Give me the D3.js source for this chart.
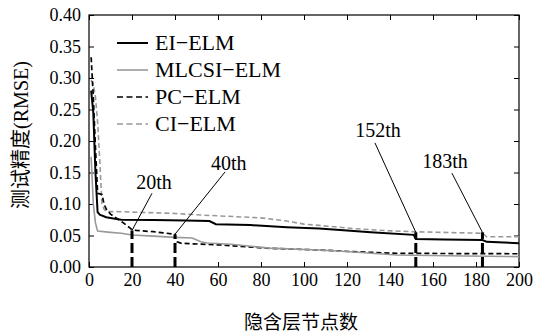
<!DOCTYPE html>
<html><head><meta charset="utf-8">
<script src="https://cdn.jsdelivr.net/npm/d3@7"></script>
<style>body{margin:0;background:#fff}svg{display:block}
.serif{font-family:"Liberation Serif","Times New Roman",Times,serif}
</style>
</head><body>
<svg id="c" width="535" height="335"></svg>
<script>
// ---- data ----
const nodesEI = [1,2,3,4,5,8,12,15,30,45,56,59,75,92,107,120,131,151,152,165,183,185,200];
const rmseEI  = [0.28,0.245,0.15,0.087,0.083,0.079,0.0765,0.075,0.0745,0.074,0.073,0.068,0.0665,0.063,0.061,0.058,0.055,0.051,0.0445,0.0435,0.0429,0.040,0.0378];
const nodesMLCSI = [1,2,3,4,10,15,20,30,40,48,52,55,66,84,107,125,143,175,200];
const rmseMLCSI  = [0.175,0.10,0.07,0.057,0.055,0.0535,0.0508,0.049,0.047,0.046,0.040,0.038,0.036,0.030,0.027,0.0235,0.019,0.0175,0.0165];
const nodesPC = [1,2,3,4,6,7,8,10,13,16,19,20,22,30,40,41,43,61,84,107,123,143,200];
const rmsePC  = [0.333,0.27,0.19,0.117,0.115,0.10,0.092,0.084,0.077,0.07,0.062,0.059,0.058,0.056,0.052,0.040,0.0376,0.035,0.0296,0.027,0.0243,0.0217,0.021];
const nodesCI = [1,2,3,4,5,6,7,8,15,30,40,52,80,92,100,107,123,139,151,183,185,200];
const rmseCI  = [0.297,0.29,0.27,0.23,0.17,0.10,0.092,0.088,0.0878,0.086,0.085,0.0825,0.078,0.073,0.068,0.066,0.061,0.0576,0.056,0.0535,0.048,0.048];
const seriesNames = ["EI\u2212ELM","MLCSI\u2212ELM","PC\u2212ELM","CI\u2212ELM"];
const markerNodes = [20,40,152,183];
const markerTops  = [0.058,0.052,0.055,0.055];
const markerLabels = ["20th","40th","152th","183th"];
const labelLineNodes = [29.3,63.3,133,168.8];
const labelLineVals  = [0.117,0.151,0.197,0.149];
const labelTextNodes = [30.2,65,134.4,165.6];
const labelTextVals  = [0.124,0.154,0.206,0.157];
const xTicks = [0,20,40,60,80,100,120,140,160,180,200];
const yTicks = [0,0.05,0.10,0.15,0.20,0.25,0.30,0.35,0.40];
const xTitle = "隐含层节点数";
const yTitle = "测试精度(RMSE)";

// ---- layout ----
const L=89,R=519,T=15,B=267;
const svg=d3.select("#c");
const x=d3.scaleLinear().domain([0,200]).range([L,R]);
const y=d3.scaleLinear().domain([0,0.40]).range([B,T]);
const serif='"Liberation Serif","Times New Roman",Times,serif';

const fmtY=d3.format(".2f");
const gx=svg.append("g").attr("transform",`translate(0,${B})`)
  .call(d3.axisBottom(x).tickValues(xTicks).tickSizeInner(-5).tickSizeOuter(0).tickPadding(8));
const gxt=svg.append("g").attr("transform",`translate(0,${T})`)
  .call(d3.axisTop(x).tickValues(xTicks).tickSizeInner(-5).tickSizeOuter(0).tickFormat(""));
const gy=svg.append("g").attr("transform",`translate(${L},0)`)
  .call(d3.axisLeft(y).tickValues(yTicks).tickSizeInner(-5).tickSizeOuter(0).tickPadding(8).tickFormat(fmtY));
const gyr=svg.append("g").attr("transform",`translate(${R},0)`)
  .call(d3.axisRight(y).tickValues(yTicks).tickSizeInner(-5).tickSizeOuter(0).tickFormat(""));
[gx,gxt,gy,gyr].forEach(g=>{
  g.attr("font-family",null).attr("font-size",null);
  g.select(".domain").remove();
  g.selectAll("line").attr("stroke","#000").attr("stroke-width",1);
  g.selectAll("text").style("font-family",serif).style("font-size","18px").attr("fill","#000");
});
gx.selectAll("text").attr("dy","0.71em").attr("y",6);
svg.append("rect").attr("x",L).attr("y",T).attr("width",R-L).attr("height",B-T)
  .attr("fill","none").attr("stroke","#000").attr("stroke-width",1.2);

const line=d3.line().x(d=>x(d[0])).y(d=>y(d[1]));
const series=[
  {n:nodesEI,v:rmseEI,color:"#000",w:2,dash:null},
  {n:nodesMLCSI,v:rmseMLCSI,color:"#999",w:1.6,dash:null},
  {n:nodesPC,v:rmsePC,color:"#000",w:1.7,dash:"5,3"},
  {n:nodesCI,v:rmseCI,color:"#999",w:1.6,dash:"5,3"}
];
svg.append("clipPath").attr("id","pc").append("rect").attr("x",L).attr("y",T).attr("width",R-L).attr("height",B-T);
const gp=svg.append("g").attr("clip-path","url(#pc)");
series.slice().reverse().forEach(s=>{
  gp.append("path").datum(s.n.map((n,i)=>[n,s.v[i]])).attr("d",line)
    .attr("fill","none").attr("stroke",s.color).attr("stroke-width",s.w)
    .attr("stroke-dasharray",s.dash);
});

markerNodes.forEach((n,i)=>{
  gp.append("line").attr("x1",x(n)).attr("x2",x(n)).attr("y1",y(0)).attr("y2",y(markerTops[i]))
    .attr("stroke","#000").attr("stroke-width",3).attr("stroke-dasharray","10,4");
  svg.append("line").attr("x1",x(n)).attr("y1",y(markerTops[i])).attr("x2",x(labelLineNodes[i])).attr("y2",y(labelLineVals[i]))
    .attr("stroke","#000").attr("stroke-width",1);
  svg.append("text").attr("x",x(labelTextNodes[i])).attr("y",y(labelTextVals[i]))
    .attr("text-anchor","middle").style("font-family",serif).style("font-size","20px").text(markerLabels[i]);
});

const lg=svg.append("g");
series.forEach((s,i)=>{
  const yy=43+i*27;
  lg.append("line").attr("x1",117).attr("x2",148).attr("y1",yy).attr("y2",yy)
    .attr("stroke",s.color).attr("stroke-width",s.w).attr("stroke-dasharray",s.dash?"6,3.5":null);
  lg.append("text").attr("x",155).attr("y",yy).attr("dy","0.33em")
    .style("font-family",serif).style("font-size","22px").text(seriesNames[i]);
});

svg.append("text").attr("x",301).attr("y",322).attr("dy","0.35em").attr("text-anchor","middle")
  .style("font-family",'"Noto Sans CJK SC",sans-serif').style("font-size","19px").text(xTitle);
svg.append("text").attr("transform","translate(21,135) rotate(-90)").attr("dy","0.35em").attr("text-anchor","middle")
  .style("font-family",'"Liberation Serif","Noto Sans CJK SC",serif').style("font-size","20px").text(yTitle);
</script>
</body></html>
